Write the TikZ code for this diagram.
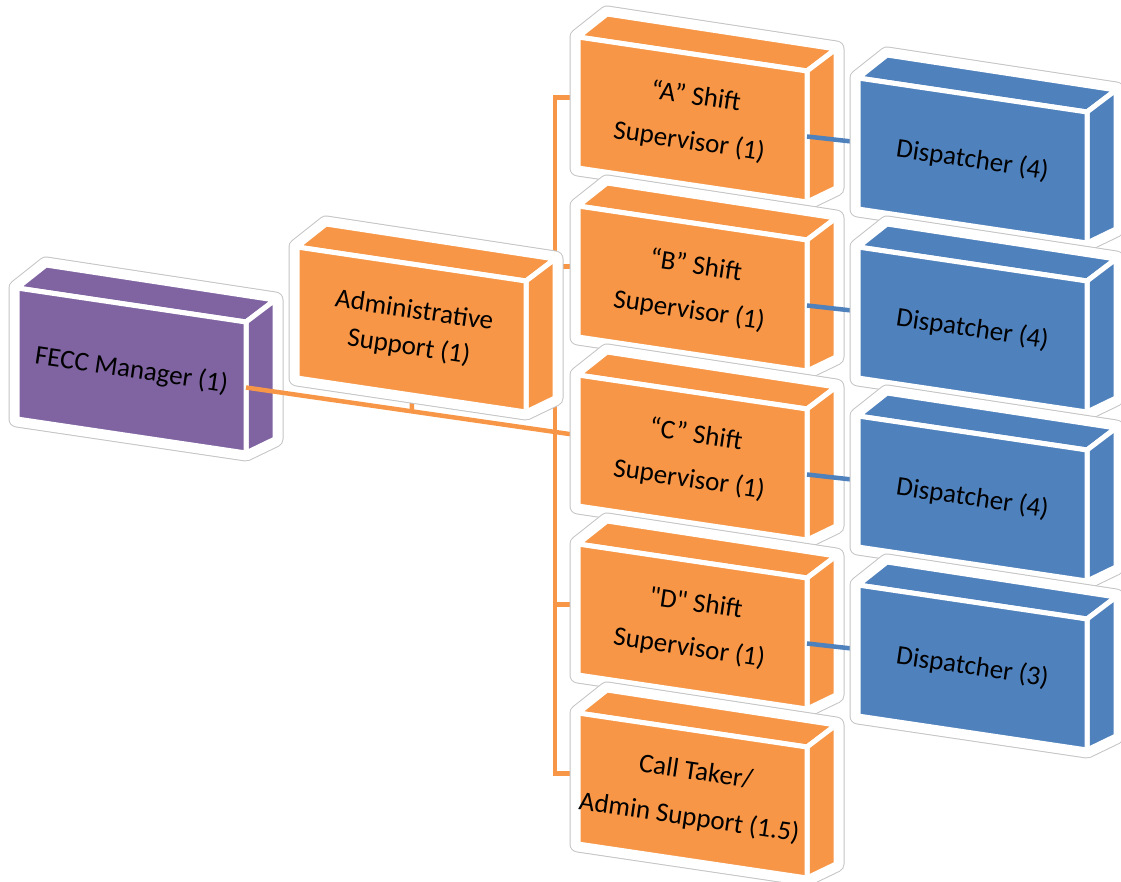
\documentclass[tikz,border=0pt]{standalone}
\usepackage{fontspec}
\setmainfont{Carlito}[Ligatures=TeXOff]
\usetikzlibrary{calc}
\definecolor{org}{HTML}{F79646}
\definecolor{blu}{HTML}{4F81BD}
\definecolor{pur}{HTML}{8064A2}
\definecolor{halo}{HTML}{C4C4C4}
\tikzset{
  haloout/.style={draw=halo, line width=17pt, line join=round, fill=white},
  haloin/.style={draw=white, line width=15pt, line join=round},
  blkface/.style={fill=#1, draw=white, line width=5pt, line join=round},
  lbl/.style={rotate=-8.4, align=center, text=black, inner sep=0pt},
  oline/.style={draw=org, line width=4.5pt},
  bline/.style={draw=blu, line width=4.5pt}
}
% name, x, y, colour, text, baselineskip
\newcommand\myblock[6]{%
  \coordinate (#1-f1) at (#2,#3);
  \coordinate (#1-f2) at ($(#1-f1)+(229,34)$);
  \coordinate (#1-f3) at ($(#1-f2)+(0,131)$);
  \coordinate (#1-f4) at ($(#1-f1)+(0,131)$);
  \coordinate (#1-b1) at ($(#1-f1)+(29,-23)$);
  \coordinate (#1-b2) at ($(#1-f2)+(29,-22)$);
  \coordinate (#1-b3) at ($(#1-f3)+(29,-14)$);
  \path[haloout] (#1-f1)--(#1-b1)--(#1-b2)--(#1-b3)--(#1-f3)--(#1-f4)--cycle;
  \path[haloin] (#1-f1)--(#1-b1)--(#1-b2)--(#1-b3)--(#1-f3)--(#1-f4)--cycle;
  \path[blkface=#4] (#1-f1)--(#1-b1)--(#1-b2)--(#1-f2)--cycle;
  \path[blkface=#4] (#1-f2)--(#1-b2)--(#1-b3)--(#1-f3)--cycle;
  \path[blkface=#4] (#1-f1)--(#1-f2)--(#1-f3)--(#1-f4)--cycle;
  \node[lbl, font=\fontsize{27}{#6}\selectfont] (#1) at ($(#1-f1)!0.5!(#1-f3)$) {#5};
}
\newcommand\anchors[1]{%
  \coordinate (#1-w) at ($(#1-f1)!0.46!(#1-f4)$);
  \coordinate (#1-m) at ($(#1-f1)!0.49!(#1-f4)$);
  \coordinate (#1-e) at ($(#1-f2)!0.5!(#1-f3)$);
  \coordinate (#1-s) at ($(#1-f4)!0.5!(#1-f3)$);
}
\begin{document}
\begin{tikzpicture}[x=1pt,y=-1pt]
\useasboundingbox (0,0) rectangle (1121,881);
% geometry coordinates of the orange column (for connectors drawn before the blocks)
\foreach \n/\yy in {A/37,B/206,C/375,D/544,CT/713}{
  \coordinate (\n-f1) at (578,\yy);
  \coordinate (\n-f4) at ($(\n-f1)+(0,131)$);
  \coordinate (\n-w) at ($(\n-f1)!0.46!(\n-f4)$);
}
\coordinate (trunk) at (555,0);

% FECC manager
\myblock{fecc}{17}{288}{pur}{FECC Manager (1)}{33}
\anchors{fecc}

% admin support geometry
\coordinate (adm-s) at (412,395);
\coordinate (adm-sd) at (412,460);

% orange connectors
\draw[oline] (A-w) -| (trunk |- CT-w) -- (CT-w);
\draw[oline] (trunk |- B-w) -- (B-w);
\draw[oline] (trunk |- D-w) -- (D-w);
\draw[oline] (fecc-e) -- (C-w);
\coordinate (join) at (intersection of adm-s--adm-sd and fecc-e--C-w);
\draw[oline] (adm-s) -- (join);

% administrative support
\myblock{adm}{297}{247}{org}{Administrative\\Support (1)}{37}

% shift supervisors and call taker
\myblock{A}{578}{37}{org}{“A” Shift\\Supervisor (1)}{45}
\myblock{B}{578}{206}{org}{“B” Shift\\Supervisor (1)}{45}
\myblock{C}{578}{375}{org}{“C” Shift\\Supervisor (1)}{45}
\myblock{D}{578}{544}{org}{"D" Shift\\Supervisor (1)}{45}
\myblock{CT}{578}{713}{org}{Call Taker/\\Admin Support (1.5)}{46}
\anchors{A}\anchors{B}\anchors{C}\anchors{D}

% dispatchers geometry + blue connectors
\foreach \n/\yy in {DA/78,DB/247,DC/416,DD/585}{
  \coordinate (\n-f1) at (858,\yy);
  \coordinate (\n-f4) at ($(\n-f1)+(0,131)$);
  \coordinate (\n-m) at ($(\n-f1)!0.49!(\n-f4)$);
}
\draw[bline] (A-e) -- (DA-m);
\draw[bline] (B-e) -- (DB-m);
\draw[bline] (C-e) -- (DC-m);
\draw[bline] (D-e) -- (DD-m);

\myblock{DA}{858}{78}{blu}{Dispatcher (4)}{33}
\myblock{DB}{858}{247}{blu}{Dispatcher (4)}{33}
\myblock{DC}{858}{416}{blu}{Dispatcher (4)}{33}
\myblock{DD}{858}{585}{blu}{Dispatcher (3)}{33}
\end{tikzpicture}
\end{document}
